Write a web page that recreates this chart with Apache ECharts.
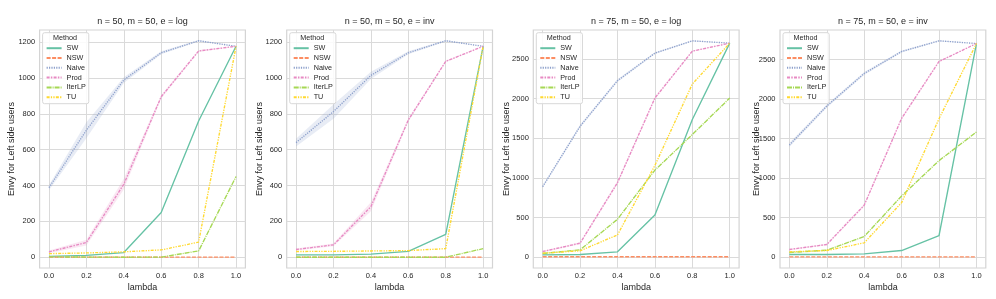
<!DOCTYPE html>
<html>
<head>
<meta charset="utf-8">
<script src="https://cdn.jsdelivr.net/npm/echarts@6/dist/echarts.min.js"></script>
<style>html,body{margin:0;padding:0;background:#fff}#c{width:996px;height:299px}</style>
</head>
<body>
<div id="c"></div>
<script>
// ---------- data ----------
const lambdas = [0.0, 0.2, 0.4, 0.6, 0.8, 1.0];
const xTicks = [0.0, 0.2, 0.4, 0.6, 0.8, 1.0];
const yTicksSmall = [0, 200, 400, 600, 800, 1000, 1200];
const yTicksLarge = [0, 500, 1000, 1500, 2000, 2500];
const methods = ['SW', 'NSW', 'Naive', 'Prod', 'IterLP', 'TU'];
const titles = ['n = 50, m = 50, e = log', 'n = 50, m = 50, e = inv', 'n = 75, m = 50, e = log', 'n = 75, m = 50, e = inv'];

// panel 1: n=50, e=log
const sw1     = [5, 10, 26, 249, 760, 1176];
const nsw1    = [1, 1, 1, 1, 1, 1];
const naive1  = [388, 708, 988, 1140, 1207, 1176];
const prod1   = [30, 82, 407, 895, 1150, 1176];
const iterlp1 = [2, 1, 0, 1, 35, 450];
const tu1     = [20, 24, 30, 41, 84, 1176];
const naiveErr1 = [14, 45, 16, 8, 4, 0];
const prodErr1  = [8, 16, 30, 10, 5, 0];

// panel 2: n=50, e=inv
const sw2     = [13, 13, 17, 33, 128, 1176];
const nsw2    = [1, 1, 1, 1, 1, 1];
const naive2  = [639, 812, 1014, 1140, 1207, 1176];
const prod2   = [43, 69, 282, 765, 1092, 1176];
const iterlp2 = [0, 0, 0, 0, 0, 48];
const tu2     = [32, 33, 35, 37, 48, 1176];
const naiveErr2 = [22, 40, 20, 8, 4, 0];
const prodErr2  = [6, 8, 25, 10, 5, 0];

// panel 3: n=75, e=log
const sw3     = [29, 34, 67, 533, 1737, 2702];
const nsw3    = [5, 5, 5, 5, 5, 5];
const naive3  = [889, 1653, 2228, 2576, 2731, 2702];
const prod3   = [71, 176, 940, 2009, 2601, 2702];
const iterlp3 = [46, 92, 478, 1099, 1548, 2009];
const tu3     = [50, 80, 281, 1158, 2186, 2702];
const naiveErr3 = [15, 20, 18, 12, 8, 0];
const prodErr3  = [8, 12, 20, 15, 8, 0];

// panel 4: n=75, e=inv
const sw4     = [34, 34, 42, 84, 274, 2702];
const nsw4    = [3, 3, 3, 3, 3, 3];
const naive4  = [1418, 1911, 2323, 2601, 2736, 2702];
const prod4   = [97, 160, 657, 1755, 2475, 2702];
const iterlp4 = [59, 88, 261, 774, 1221, 1583];
const tu4     = [67, 84, 181, 690, 1751, 2702];
const naiveErr4 = [25, 20, 18, 12, 8, 0];
const prodErr4  = [8, 10, 15, 15, 10, 0];

// ---------- styles ----------
const colors = {SW:'#66c2a5', NSW:'#fc8d62', Naive:'#8da0cb', Prod:'#e78ac3', IterLP:'#a6d854', TU:'#ffd92f'};
const dashes = {SW:'solid', NSW:[4,1.5], Naive:[1.2,1.2], Prod:[3,1.25,1.5,1.25], IterLP:[5,1,1,1], TU:[3,1.25,1.25,1.25,1.25,1.25]};
const FONT = "'Liberation Sans', Arial, Helvetica, sans-serif";
const TXT = '#262626';

const panels = [
  {vals:{SW:sw1,NSW:nsw1,Naive:naive1,Prod:prod1,IterLP:iterlp1,TU:tu1}, bands:{Naive:naiveErr1,Prod:prodErr1}, left:39.6, yMin:-60, yMax:1267, ticks:yTicksSmall, gap:23.4},
  {vals:{SW:sw2,NSW:nsw2,Naive:naive2,Prod:prod2,IterLP:iterlp2,TU:tu2}, bands:{Naive:naiveErr2,Prod:prodErr2}, left:286.7, yMin:-60, yMax:1267, ticks:yTicksSmall, gap:22.2},
  {vals:{SW:sw3,NSW:nsw3,Naive:naive3,Prod:prod3,IterLP:iterlp3,TU:tu3}, bands:{Naive:naiveErr3,Prod:prodErr3}, left:533.3, yMin:-137, yMax:2868, ticks:yTicksLarge, gap:22.1},
  {vals:{SW:sw4,NSW:nsw4,Naive:naive4,Prod:prod4,IterLP:iterlp4,TU:tu4}, bands:{Naive:naiveErr4,Prod:prodErr4}, left:780, yMin:-137, yMax:2873, ticks:yTicksLarge, gap:18.5}
];
const W = 205.8, TOP = 30, H = 238;

function hexA(hex, a){
  const n = parseInt(hex.slice(1),16);
  return `rgba(${(n>>16)&255},${(n>>8)&255},${n&255},${a})`;
}

const grids = [], xAxes = [], yAxes = [], series = [], titleArr = [], legends = [], graphics = [];
panels.forEach((p, i) => {
  grids.push({left:p.left, top:TOP, width:W, height:H, show:true, borderColor:'#d4d4d4', borderWidth:1.2, backgroundColor:'#fff', containLabel:false});
  xAxes.push({
    type:'value', gridIndex:i, min:-0.05, max:1.05,
    name:'lambda', nameLocation:'middle', nameGap:15, nameMoveOverlap:false,
    nameTextStyle:{fontFamily:FONT, fontSize:9, color:TXT},
    axisLine:{show:false}, axisTick:{show:false, customValues:xTicks},
    axisLabel:{customValues:xTicks, fontFamily:FONT, fontSize:7.5, color:TXT, margin:4, formatter:v=>v.toFixed(1)},
    splitLine:{show:true, lineStyle:{color:'#dadada', width:1}}
  });
  yAxes.push({
    type:'value', gridIndex:i, min:p.yMin, max:p.yMax,
    name:'Envy for Left side users', nameLocation:'middle', nameGap:p.gap, nameMoveOverlap:false,
    nameTextStyle:{fontFamily:FONT, fontSize:9, color:TXT},
    axisLine:{show:false}, axisTick:{show:false, customValues:p.ticks},
    axisLabel:{customValues:p.ticks, fontFamily:FONT, fontSize:7.5, color:TXT, margin:4.5, formatter:v=>String(v)},
    splitLine:{show:true, lineStyle:{color:'#dadada', width:1}}
  });
  titleArr.push({text:titles[i], left:p.left + W/2, top:17.5, textAlign:'center', padding:0,
    textStyle:{fontFamily:FONT, fontSize:9, fontWeight:'normal', color:TXT}});
  // confidence bands as polygons through the axis scales
  Object.keys(p.bands).forEach(m => {
    const v = p.vals[m], e = p.bands[m];
    series.push({type:'custom', name:'band' + i + m, xAxisIndex:i, yAxisIndex:i, silent:true, z:1,
      data:lambdas.map((x,k)=>[x, v[k]-e[k], v[k]+e[k]]),
      renderItem:(params, api) => {
        if (params.dataIndex !== 0) return null;
        const lo = [], hi = [];
        lambdas.forEach((x,k) => {
          lo.push(api.coord([x, v[k]-e[k]]));
          hi.push(api.coord([x, v[k]+e[k]]));
        });
        return {type:'polygon', shape:{points:lo.concat(hi.reverse())},
          style:{fill:hexA(colors[m],0.2), stroke:null}};
      }});
  });
  methods.forEach(m => {
    series.push({type:'line', name:m, xAxisIndex:i, yAxisIndex:i, symbol:'none', z:2,
      lineStyle:{color:colors[m], width:1.35, type:dashes[m]}, itemStyle:{color:colors[m]},
      data:lambdas.map((x,k)=>[x, p.vals[m][k]])});
  });
  legends.push({data:methods, orient:'vertical', left:p.left+3, top:32.7,
    padding:[12,3,3,3], itemWidth:15, itemHeight:7, itemGap:2.8, selectedMode:false,
    itemStyle:{opacity:0, borderWidth:0},
    backgroundColor:'rgba(255,255,255,0.85)', borderColor:'#d8d8d8', borderWidth:1, borderRadius:2,
    textStyle:{fontFamily:FONT, fontSize:7.2, color:TXT}});
  graphics.push({type:'text', left:p.left+13.5, top:34.2, z:100,
    style:{text:'Method', fontFamily:FONT, fontSize:7.2, fill:TXT}});
});

const chart = echarts.init(document.getElementById('c'), null, {renderer:'canvas'});
chart.setOption({
  animation:false,
  backgroundColor:'#fff',
  title:titleArr, grid:grids, xAxis:xAxes, yAxis:yAxes, legend:legends, series:series, graphic:graphics
});
</script>
</body>
</html>
